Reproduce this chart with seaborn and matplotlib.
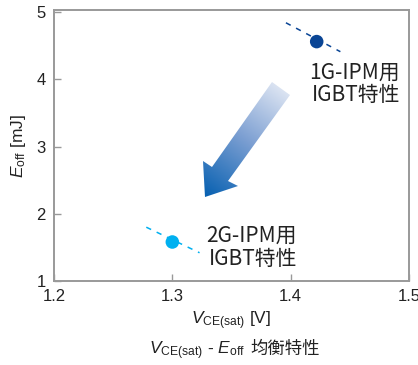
import numpy as np
import pandas as pd
import matplotlib
matplotlib.use("Agg")
import matplotlib.pyplot as plt
import seaborn as sns
from matplotlib.colors import LinearSegmentedColormap
from matplotlib.patches import Polygon

sns.set_theme(style="white")
plt.rcParams['font.family'] = ['Liberation Sans', 'Noto Sans CJK SC', 'DejaVu Sans']
plt.rcParams['mathtext.fontset'] = 'custom'
plt.rcParams['mathtext.rm'] = 'Liberation Sans'
plt.rcParams['mathtext.it'] = 'Liberation Sans:italic'

# ---- data ----
series = ["1G-IPM用\nIGBT特性", "2G-IPM用\nIGBT特性"]
vce = [1.422, 1.300]
eoff = [4.56, 1.58]
colors = ["#0a4595", "#00b0f0"]
# trade-off curve segments (start / end) for each series
curve_x = [[1.396, 1.442], [1.278, 1.323]]
curve_y = [[4.84, 4.41], [1.80, 1.42]]
x_ticks = [1.2, 1.3, 1.4, 1.5]
y_ticks = [1, 2, 3, 4, 5]

W, H, DPI = 418, 365, 100
fig = plt.figure(figsize=(W / DPI, H / DPI), dpi=DPI)
L, R, T, B = 54, 409, 10, 281
ax = fig.add_axes([L / W, 1 - B / H, (R - L) / W, (B - T) / H])
xlim = (1.2, 1.5)
ylim = (1.0, 5.03)

# dashed curves
for i in range(2):
    df = pd.DataFrame({"x": curve_x[i], "y": curve_y[i]})
    sns.lineplot(data=df, x="x", y="y", ax=ax, color=colors[i], lw=1.1,
                 linestyle=(0, (3.5, 4)), sort=False, estimator=None)

# points
pts = pd.DataFrame({"x": vce, "y": eoff, "s": series})
sns.scatterplot(data=pts, x="x", y="y", hue="s", palette=colors, s=95,
                edgecolor="none", legend=False, ax=ax, zorder=5)

# labels
cjk = ['Noto Sans CJK SC', 'DejaVu Sans']
ax.text(1.4924, 3.93, series[0], ha="right", va="center", multialignment="right",
        fontsize=15, family=cjk, color="#222222", linespacing=1.05)
ax.text(1.4054, 1.50, series[1], ha="right", va="center", multialignment="right",
        fontsize=15, family=cjk, color="#222222", linespacing=1.05)

# gradient arrow (decoration) defined in pixel coords, converted to data
def px2data(px, py):
    return (xlim[0] + (px - L) / (R - L) * (xlim[1] - xlim[0]),
            ylim[0] + (B - py) / (B - T) * (ylim[1] - ylim[0]))

arrow_px = [(272, 82), (290, 95), (228, 181), (238, 186), (205, 197), (203, 161), (212, 167)]
arrow = [px2data(*p) for p in arrow_px]
poly = Polygon(arrow, closed=True, facecolor="none", edgecolor="none", transform=ax.transData)
ax.add_patch(poly)
gx0, gy0 = px2data(200, 200)
gx1, gy1 = px2data(292, 80)
nx, ny = 200, 200
xx, yy = np.meshgrid(np.linspace(0, 1, nx), np.linspace(0, 1, ny))
t = ((1 - xx) * 92 * 0.6 + (1 - yy) * 120 * 0.8)
t = (t - t.min()) / (t.max() - t.min())
cmap = LinearSegmentedColormap.from_list("arr", ["#e4eaf5", "#7c9fd2", "#0a62b2"])
im = ax.imshow(t, extent=[gx0, gx1, gy0, gy1], origin="lower", cmap=cmap,
               aspect="auto", vmin=0.05, vmax=0.95, zorder=3, interpolation="bilinear")
im.set_clip_path(poly)

ax.set_xlim(*xlim)
ax.set_ylim(*ylim)
ax.set_xticks(x_ticks)
ax.set_xticklabels([f"{v:.1f}" for v in x_ticks])
ax.set_yticks(y_ticks)
ax.set_yticklabels([str(v) for v in y_ticks])
ax.tick_params(direction="in", length=5, width=1, color="#999999",
               labelsize=12, labelcolor="#222222", pad=6, left=True, bottom=True)
for sp in ax.spines.values():
    sp.set_color("#999999")
    sp.set_linewidth(1.4)

ax.set_xlabel(r"$V_{\mathrm{CE(sat)}}$ [V]", fontsize=12.5, color="#222222", labelpad=4)
ax.set_ylabel(r"$E_{\mathrm{off}}$ [mJ]", fontsize=12.5, color="#222222", labelpad=6)

# caption
fig.text(245 / W, 1 - 351 / H, r"$V_{\mathrm{CE(sat)}}$ - $E_{\mathrm{off}}$", ha="right",
         va="center", fontsize=12.5, color="#222222")
fig.text(250 / W, 1 - 349 / H, "均衡特性", ha="left", va="center", fontsize=12.5,
         family=cjk, color="#222222")

fig.savefig("out.png", dpi=DPI)
